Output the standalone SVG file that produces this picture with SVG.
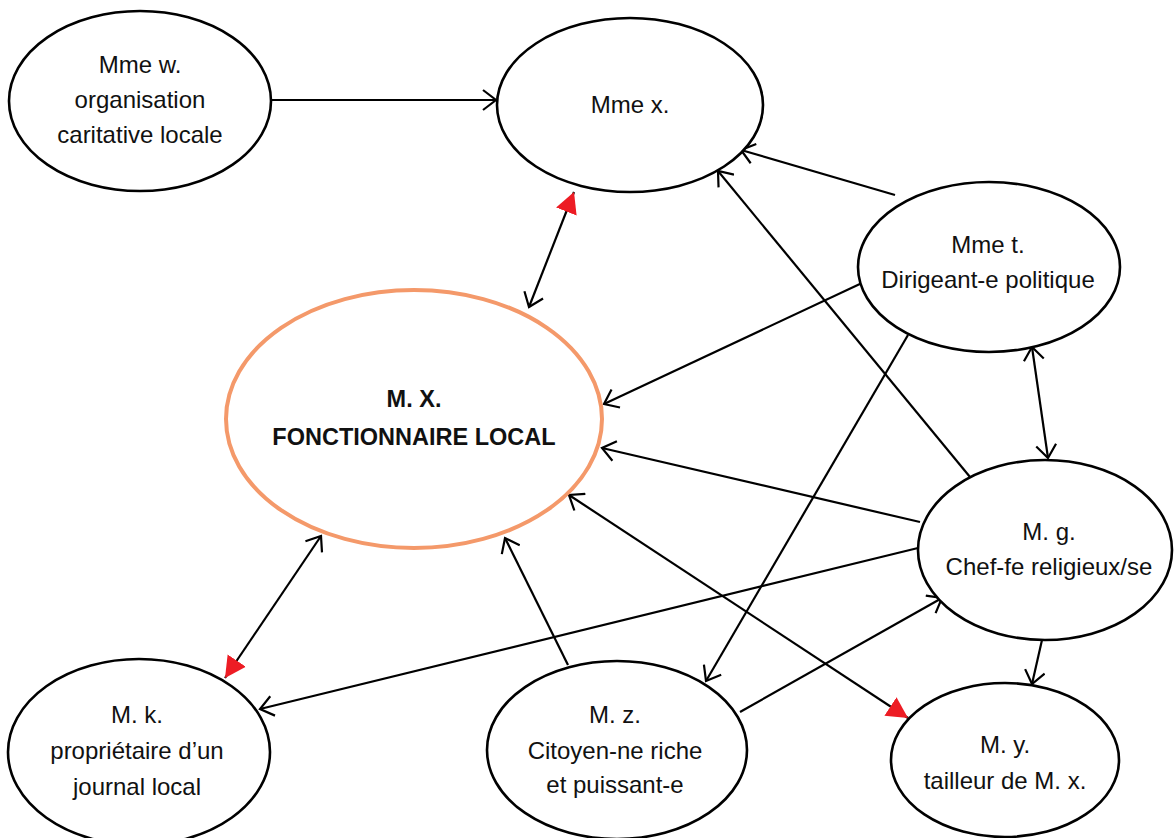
<svg xmlns="http://www.w3.org/2000/svg" width="1174" height="838" viewBox="0 0 1174 838">
<defs>
<marker id="open" viewBox="0 0 20 22" refX="17" refY="11" markerWidth="20" markerHeight="22" markerUnits="userSpaceOnUse" orient="auto-start-reverse">
<path d="M4,1 L17,11 L4,21" fill="none" stroke="#000" stroke-width="2.2"/>
</marker>
<marker id="red" viewBox="0 0 22 24" refX="21" refY="12" markerWidth="22" markerHeight="24" markerUnits="userSpaceOnUse" orient="auto-start-reverse">
<path d="M0,1 L21,12 L0,23 z" fill="#ed1c24"/>
</marker>
<style>
.n{fill:#fff;stroke:#000;stroke-width:2.6}
.c{fill:none;stroke:#000;stroke-width:2.2}
text{font-family:"Liberation Sans","Noto Sans",Arial,sans-serif;font-size:24px;fill:#111;text-anchor:middle}
.b{font-weight:bold;font-size:23.5px}
</style>
</defs>
<rect width="1174" height="838" fill="#fff"/>
<g id="connectors">
<line class="c" x1="272" y1="100" x2="496" y2="100" marker-end="url(#open)"/>
<line class="c" x1="529" y1="307" x2="574" y2="192" marker-start="url(#open)" marker-end="url(#red)"/>
<line class="c" x1="895" y1="195" x2="741" y2="150" marker-end="url(#open)"/>
<line class="c" x1="970" y1="477" x2="718" y2="171" marker-end="url(#open)"/>
<line class="c" x1="862" y1="283" x2="604" y2="404" marker-end="url(#open)"/>
<line class="c" x1="1032" y1="347" x2="1048" y2="458" marker-start="url(#open)" marker-end="url(#open)"/>
<line class="c" x1="908" y1="335" x2="706" y2="681" marker-end="url(#open)"/>
<line class="c" x1="920" y1="522" x2="602" y2="448" marker-end="url(#open)"/>
<line class="c" x1="918" y1="548" x2="260" y2="709" marker-end="url(#open)"/>
<line class="c" x1="569" y1="495" x2="908" y2="718" marker-start="url(#open)" marker-end="url(#red)"/>
<line class="c" x1="568" y1="665" x2="505" y2="538" marker-end="url(#open)"/>
<line class="c" x1="740" y1="712" x2="942" y2="598" marker-end="url(#open)"/>
<line class="c" x1="1042" y1="640" x2="1032" y2="684" marker-end="url(#open)"/>
<line class="c" x1="321" y1="536" x2="225" y2="678" marker-start="url(#open)" marker-end="url(#red)"/>
</g>
<g id="mme-w">
<ellipse class="n" cx="140" cy="101" rx="131" ry="90"/>
<text x="140" y="73">Mme w.</text>
<text x="140" y="108">organisation</text>
<text x="140" y="143">caritative locale</text>
</g>
<g id="mme-x">
<ellipse class="n" cx="630" cy="105" rx="133" ry="87"/>
<text x="630" y="113">Mme x.</text>
</g>
<g id="mme-t">
<ellipse class="n" cx="989" cy="267" rx="131" ry="85"/>
<text x="988" y="253">Mme t.</text>
<text x="988" y="288">Dirigeant-e politique</text>
</g>
<g id="m-X">
<ellipse cx="414" cy="419" rx="188" ry="129" fill="#fff" stroke="#f4996a" stroke-width="4"/>
<text class="b" x="414" y="407">M. X.</text>
<text class="b" x="414" y="445">FONCTIONNAIRE LOCAL</text>
</g>
<g id="m-g">
<ellipse class="n" cx="1045" cy="550" rx="127" ry="90"/>
<text x="1049" y="540">M. g.</text>
<text x="1049" y="575">Chef-fe religieux/se</text>
</g>
<g id="m-k">
<ellipse class="n" cx="139" cy="752" rx="131" ry="93"/>
<text x="137" y="723">M. k.</text>
<text x="137" y="759">propriétaire d’un</text>
<text x="137" y="795">journal local</text>
</g>
<g id="m-z">
<ellipse class="n" cx="617" cy="750" rx="130" ry="89"/>
<text x="615" y="723">M. z.</text>
<text x="615" y="759">Citoyen-ne riche</text>
<text x="615" y="793">et puissant-e</text>
</g>
<g id="m-y">
<ellipse class="n" cx="1005" cy="760" rx="114" ry="77"/>
<text x="1005" y="753">M. y.</text>
<text x="1005" y="789">tailleur de M. x.</text>
</g>
</svg>
